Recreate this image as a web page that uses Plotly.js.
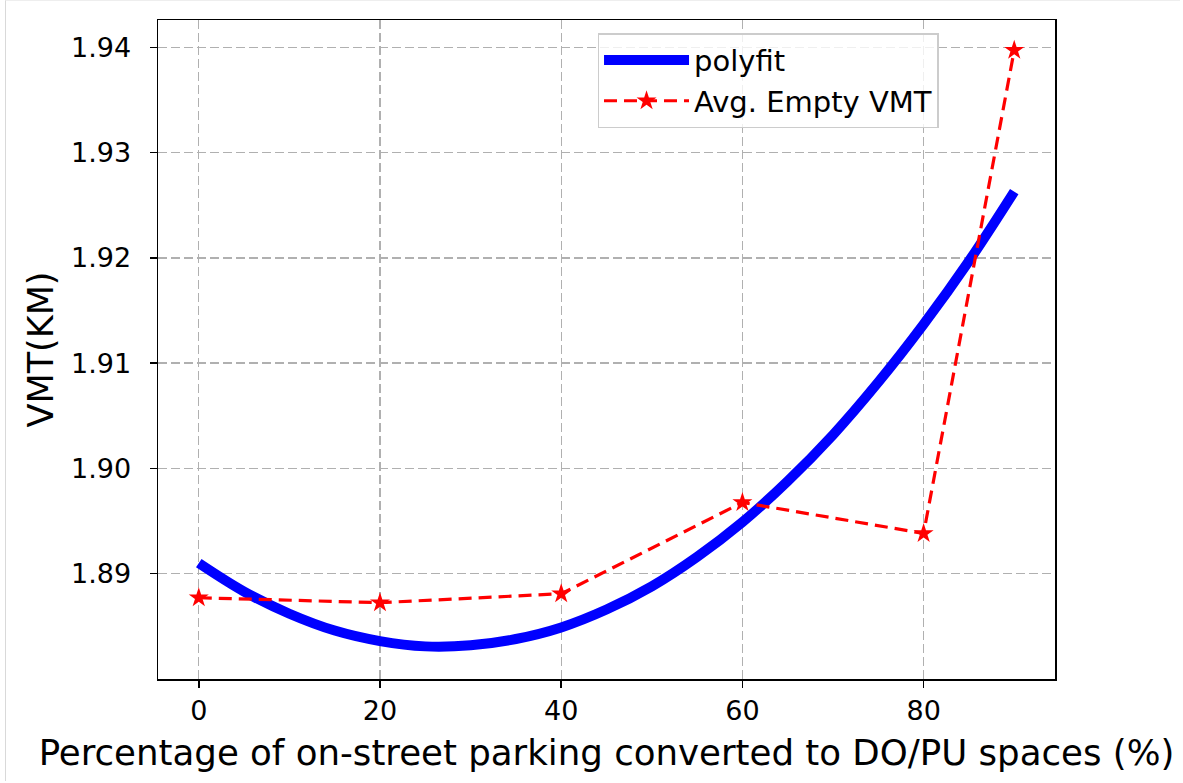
<!DOCTYPE html>
<html>
<head>
<meta charset="utf-8">
<script src="https://cdn.plot.ly/plotly-3.0.1.min.js"></script>
<style>
html,body{margin:0;padding:0;background:#fff;}
#frame{position:absolute;left:5px;top:0;width:1175px;height:781px;border-left:1px solid #d9d9d9;border-top:1px solid #eeeeee;box-sizing:border-box;pointer-events:none;}
#chart{width:1183px;height:783px;}
</style>
</head>
<body>
<div id="chart"></div>
<div id="frame"></div>
<script>
// Data
const fitX = [0, 5, 10, 15, 20, 25, 30, 35, 40, 45, 50, 55, 60, 65, 70, 75, 80, 85, 90];
const fitY = [1.8910, 1.8883, 1.8862, 1.8846, 1.8836, 1.8831, 1.8832, 1.8838, 1.8849, 1.8866, 1.8888, 1.8916, 1.8949, 1.8988, 1.9032, 1.9082, 1.9137, 1.9197, 1.9263];
const vmtX = [0, 20, 40, 60, 80, 90];
const vmtY = [1.88772, 1.88725, 1.88810, 1.89677, 1.89383, 1.93972];
const xTicks = [0, 20, 40, 60, 80];
const yTicks = [1.89, 1.90, 1.91, 1.92, 1.93, 1.94];
const yTickText = ['1.89', '1.90', '1.91', '1.92', '1.93', '1.94'];

const FONT = 'DejaVu Sans, sans-serif';

const traces = [
  {
    x: fitX, y: fitY, mode: 'lines', name: 'polyfit',
    line: {color: '#0000ff', width: 10, shape: 'spline'}
  },
  {
    x: vmtX, y: vmtY, mode: 'lines+markers', name: 'Avg. Empty VMT',
    line: {color: '#ff0000', width: 3.2, dash: '13px,7px'},
    marker: {symbol: 'star', size: 15, color: '#ff0000', line: {width: 0}}
  }
];

const axisCommon = {
  showline: true, linecolor: '#000', linewidth: 1.5, mirror: true,
  ticks: 'outside', ticklen: 7, tickwidth: 1.5, tickcolor: '#000',
  showgrid: true, gridcolor: '#b0b0b0', gridwidth: 1.4, griddash: '9px,4px',
  zeroline: false,
  tickfont: {family: FONT, size: 27, color: '#000'}
};

const layout = {
  width: 1183, height: 783,
  margin: {l: 158, r: 128, t: 20, b: 104},
  paper_bgcolor: '#fff', plot_bgcolor: '#fff',
  font: {family: FONT, color: '#000'},
  showlegend: true,
  legend: {
    x: 0.49, y: 0.98, xanchor: 'left', yanchor: 'top',
    bgcolor: 'rgba(255,255,255,0.8)', bordercolor: '#cccccc', borderwidth: 1.5,
    font: {family: FONT, size: 29, color: '#000'},
    itemwidth: 85, tracegroupgap: 0
  },
  xaxis: Object.assign({}, axisCommon, {
    range: [-4.5, 94.5],
    tickmode: 'array', tickvals: xTicks, ticktext: xTicks.map(String),
    title: {text: 'Percentage of on-street parking converted to DO/PU spaces (%)', font: {family: FONT, size: 35.6, color: '#000'}, standoff: 15}
  }),
  yaxis: Object.assign({}, axisCommon, {
    range: [1.8800, 1.9426],
    ticklabelstandoff: 13,
    tickmode: 'array', tickvals: yTicks, ticktext: yTickText,
    title: {text: 'VMT(KM)', font: {family: FONT, size: 35, color: '#000'}, standoff: 6}
  })
};

Plotly.newPlot('chart', traces, layout, {staticPlot: true, displayModeBar: false});
</script>
</body>
</html>
